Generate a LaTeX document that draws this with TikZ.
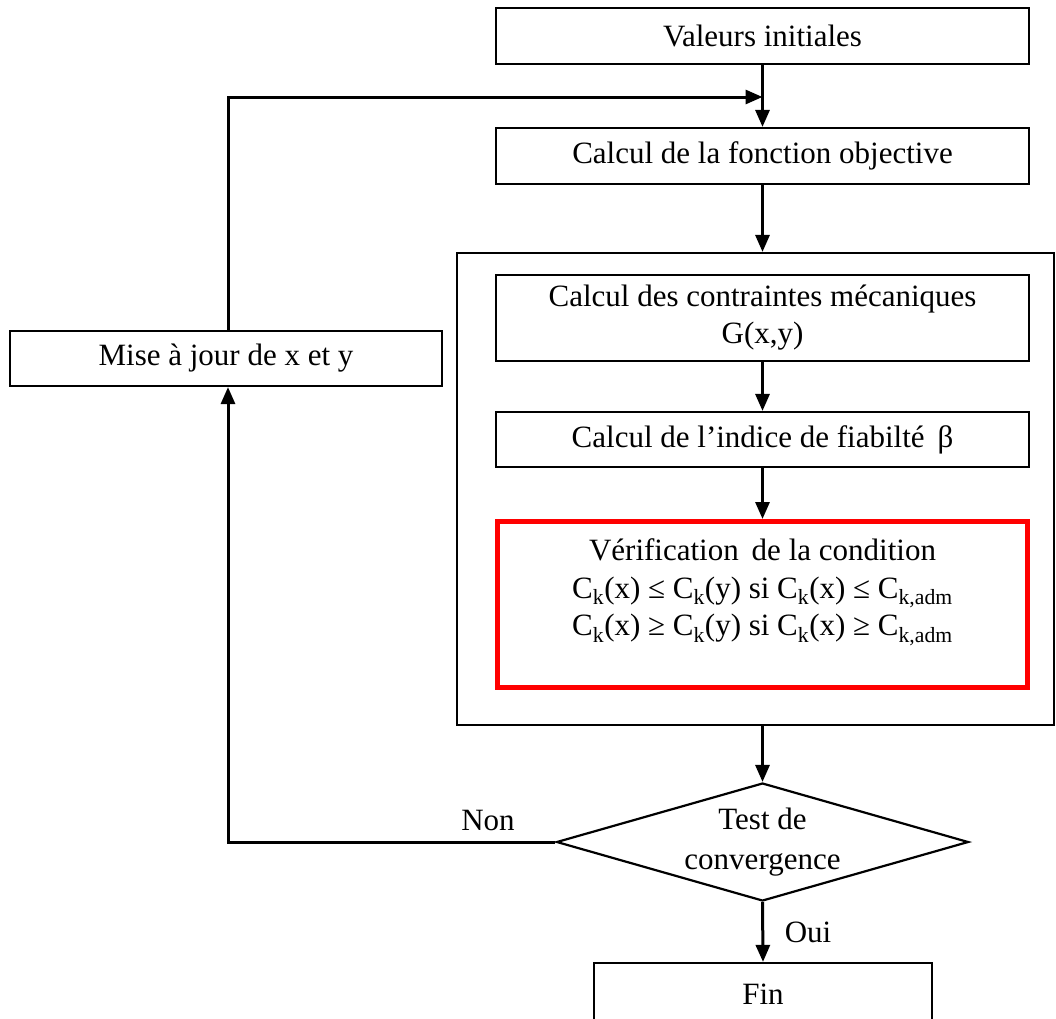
\documentclass[tikz,border=0pt]{standalone}
\usepackage{fontspec}
\setmainfont{Liberation Serif}
\usetikzlibrary{arrows.meta,shapes.geometric}
\begin{document}
\begin{tikzpicture}[x=1pt,y=-1pt,
  box/.style={draw,line width=2.2pt,minimum height=56pt,minimum width=533pt,inner sep=0pt,align=center,font=\fontsize{31}{36}\selectfont},
  conn/.style={line width=3pt,-{Triangle[length=17pt,width=14pt]}},
  lbl/.style={inner sep=0pt,font=\fontsize{31}{36}\selectfont}]
\useasboundingbox (0,0) rectangle (1056,1018);
\node[box] (vi) at (762.5,36) {Valeurs initiales};
\node[box] (cf) at (762.5,156) {Calcul de la fonction objective};
\node[draw,line width=2.2pt,minimum width=597pt,minimum height=472pt,inner sep=0pt] (big) at (755.5,489) {};
\node[box,minimum height=86pt,font=\fontsize{31}{37}\selectfont] (cc) at (762.5,318) {Calcul des contraintes mécaniques\\G(x,y)};
\node[box,minimum height=55pt] (ci) at (762.5,439.5) {Calcul de l’indice de fiabilté \,β};
\node[draw=red,line width=5pt,minimum width=530pt,minimum height=166pt,inner sep=0pt] (vc) at (762.5,604.5) {};
\node[lbl,align=center,font=\fontsize{31}{37.5}\selectfont] (vct) at (762.5,592) {Vérification \,de la condition\\
C\textsubscript{k}(x) ≤ C\textsubscript{k}(y) si C\textsubscript{k}(x) ≤ C\textsubscript{k,adm}\\
C\textsubscript{k}(x) ≥ C\textsubscript{k}(y) si C\textsubscript{k}(x) ≥ C\textsubscript{k,adm}};
\node[draw,line width=2.2pt,diamond,minimum width=412pt,minimum height=118pt,inner sep=0pt,aspect=3.5] (tc) at (762.5,842) {};
\node[lbl,align=center,font=\fontsize{31}{40}\selectfont] (tct) at (762.5,842) {Test de\\convergence};
\node[box,minimum width=338pt,minimum height=70pt] (fin) at (763,998) {};
\node[lbl] (fint) at (763,994) {Fin};
\node[box,minimum width=432pt,minimum height=55pt] (mj) at (226,358.5) {Mise à jour de x et y};
\node[lbl] (non) at (488,820) {Non};
\node[lbl] (oui) at (808,932) {Oui};
\coordinate (j1) at (762.5,97);
\draw[conn] (vi.south) -- (cf.north);
\draw[conn] (mj.north -| 228,0) |- (j1);
\draw[conn] (cf.south) -- (big.north -| cf.south);
\draw[conn] (cc.south) -- (ci.north);
\draw[conn] (ci.south) -- (vc.north);
\draw[conn] (big.south -| cf.south) -- (tc.north);
\draw[conn] (tc.south) -- (fin.north);
\draw[conn] (tc.west) -| (mj.south -| 228,0);
\end{tikzpicture}
\end{document}
